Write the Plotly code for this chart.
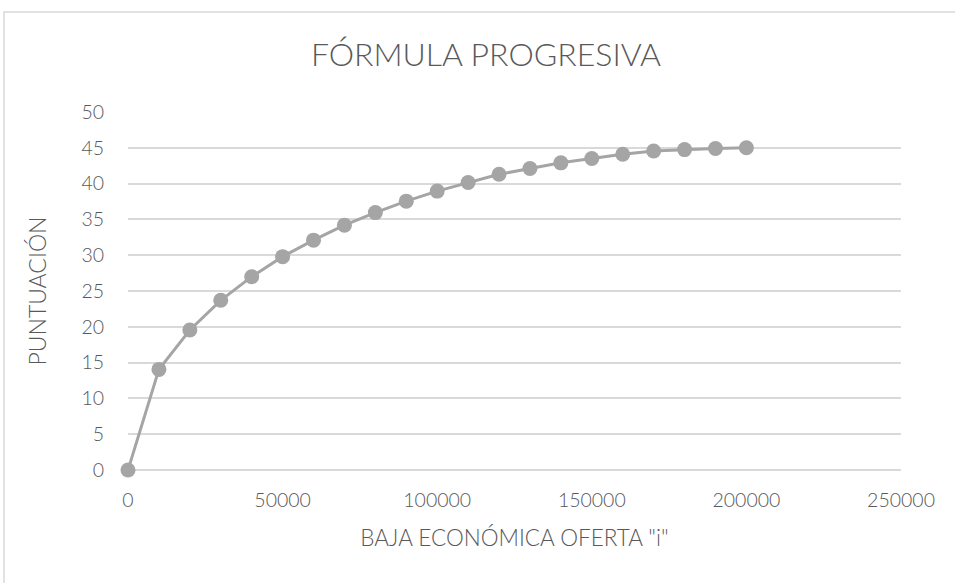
import plotly.graph_objects as go

baja = [0, 10000, 20000, 30000, 40000, 50000, 60000, 70000, 80000, 90000, 100000,
        110000, 120000, 130000, 140000, 150000, 160000, 170000, 180000, 190000, 200000]
puntuacion = [0, 14.05, 19.55, 23.7, 27.0, 29.8, 32.1, 34.2, 35.95, 37.55, 38.95,
              40.15, 41.3, 42.1, 42.9, 43.5, 44.1, 44.55, 44.75, 44.9, 45.0]

x_ticks = [0, 50000, 100000, 150000, 200000, 250000]
y_ticks = [0, 5, 10, 15, 20, 25, 30, 35, 40, 45, 50]

FONT = "Lato"
TXT = "#595959"
GRID = "#d9d9d9"
SERIES = "#a5a5a5"

fig = go.Figure(go.Scatter(
    x=baja, y=puntuacion, mode="lines+markers",
    line=dict(color=SERIES, width=3),
    marker=dict(color=SERIES, size=15),
    cliponaxis=False,
    showlegend=False,
))

fig.update_layout(
    width=955, height=583,
    margin=dict(l=128, r=54, t=112, b=113),
    paper_bgcolor="white", plot_bgcolor="white",
    font=dict(family=FONT, color=TXT, size=19),
    title=dict(text="FÓRMULA PROGRESIVA", x=486 / 955, xanchor="center",
               y=1 - 55 / 583, yanchor="middle",
               font=dict(family=FONT, size=32, color=TXT, weight=300)),
    xaxis=dict(range=[0, 250000], tickvals=x_ticks, ticktext=[str(v) for v in x_ticks],
               showgrid=False, zeroline=False, showline=False, ticks="",
               tickfont=dict(size=19.5, color=TXT, weight=300), ticklabelstandoff=16,
               title=dict(text='BAJA ECONÓMICA OFERTA "i"',
                          font=dict(size=22.5, color=TXT, weight=300), standoff=20)),
    yaxis=dict(range=[0, 50], tickvals=y_ticks, showgrid=True, gridcolor=GRID, gridwidth=1.5,
               zeroline=True, zerolinecolor=GRID, zerolinewidth=1.5, showline=False, ticks="",
               tickfont=dict(size=19.5, color=TXT, weight=300), ticklabelstandoff=23,
               title=dict(text="PUNTUACIÓN", font=dict(size=23, color=TXT, weight=300), standoff=28)),
    shapes=[dict(type="rect", xref="paper", yref="paper",
                 x0=(4 - 128) / 773, x1=1.2, y0=-0.4, y1=1 + (112 - 12) / 358,
                 line=dict(color="#d9d9d9", width=1.5), fillcolor="rgba(0,0,0,0)", layer="below")],
)

fig.write_html("out.html", config={"displayModeBar": False},
               post_script="document.body.style.margin='0px';")
